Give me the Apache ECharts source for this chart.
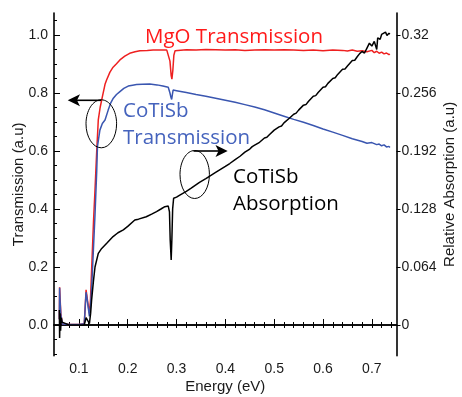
<!DOCTYPE html>
<html>
<head>
<meta charset="utf-8">
<script src="https://cdn.jsdelivr.net/npm/echarts@6/dist/echarts.min.js"></script>
<style>html,body{margin:0;padding:0;background:#fff}#c{width:462px;height:397px}</style>
</head>
<body>
<div id="c"></div>
<script>
// ---- data (Energy eV, value) ----
const mgoTransmission = [
[0.060,0.02],[0.0605,0.13],[0.0615,0.09],[0.063,0.04],[0.066,0.003],[0.08,0.002],[0.1,0.002],[0.111,0.004],
[0.1147,0.121],[0.118,0.08],[0.1215,0.04],[0.1235,0.08],[0.1263,0.201],[0.130,0.36],[0.133,0.466],[0.1365,0.60],
[0.1397,0.707],[0.1435,0.75],[0.1467,0.776],[0.1535,0.83],[0.1567,0.845],[0.1636,0.872],[0.170,0.889],[0.177,0.901],
[0.184,0.914],[0.194,0.927],[0.204,0.937],[0.215,0.942],[0.225,0.946],[0.24,0.947],[0.252,0.948],[0.265,0.948],
[0.28,0.948],[0.284,0.946],[0.2865,0.91],[0.289,0.86],[0.2905,0.848],[0.2925,0.88],[0.2945,0.93],[0.297,0.946],
[0.30,0.948],[0.32,0.949],[0.34,0.948],[0.36,0.950],[0.38,0.949],[0.40,0.948],[0.42,0.949],[0.44,0.947],
[0.46,0.948],[0.48,0.949],[0.50,0.948],[0.52,0.949],[0.54,0.948],[0.56,0.947],[0.58,0.948],[0.60,0.946],
[0.62,0.948],[0.64,0.947],[0.65,0.945],[0.66,0.948],[0.67,0.944],[0.68,0.946],[0.69,0.942],[0.70,0.947],
[0.705,0.939],[0.71,0.944],[0.715,0.937],[0.72,0.941],[0.725,0.935],[0.73,0.938],[0.735,0.932],[0.737,0.934]
];
const cotisbTransmission = [
[0.060,0.02],[0.0605,0.128],[0.0615,0.08],[0.063,0.035],[0.066,0.003],[0.08,0.002],[0.1,0.002],[0.111,0.004],
[0.1147,0.113],[0.118,0.075],[0.1215,0.03],[0.124,0.07],[0.127,0.16],[0.1297,0.26],[0.133,0.38],[0.1365,0.53],
[0.138,0.615],[0.143,0.672],[0.148,0.695],[0.1535,0.707],[0.16,0.741],[0.165,0.765],[0.1705,0.782],[0.177,0.795],
[0.184,0.805],[0.192,0.816],[0.201,0.824],[0.21,0.827],[0.218,0.829],[0.23,0.830],[0.245,0.831],[0.26,0.828],
[0.272,0.824],[0.283,0.82],[0.2865,0.80],[0.2885,0.785],[0.290,0.778],[0.2915,0.795],[0.293,0.81],[0.30,0.808],
[0.32,0.802],[0.34,0.795],[0.36,0.789],[0.38,0.782],[0.40,0.775],[0.42,0.768],[0.44,0.76],[0.46,0.752],
[0.48,0.742],[0.50,0.731],[0.52,0.72],[0.54,0.709],[0.56,0.699],[0.58,0.688],[0.60,0.676],[0.62,0.665],
[0.64,0.654],[0.66,0.642],[0.68,0.633],[0.69,0.627],[0.70,0.629],[0.71,0.622],[0.715,0.624],[0.72,0.618],
[0.725,0.621],[0.73,0.614],[0.735,0.616],[0.737,0.612]
];
const cotisbAbsorption = [
[0.060,0.0166],[0.0605,-0.0144],[0.0615,0.0128],[0.0625,-0.0064],[0.064,0.008],[0.0655,0.0032],[0.068,0.001],[0.08,0.0],
[0.1,0.0],[0.111,0.0003],[0.1147,0.008],[0.118,0.0058],[0.1215,0.0016],[0.124,0.0128],[0.126,0.0275],[0.13,0.0496],
[0.133,0.064],[0.1397,0.079],[0.1467,0.0845],[0.157,0.0902],[0.17,0.0976],[0.18,0.1018],[0.191,0.105],[0.2,0.1088],
[0.2145,0.1158],[0.222,0.1168],[0.238,0.1194],[0.25,0.1226],[0.259,0.1251],[0.268,0.128],[0.276,0.1306],[0.283,0.1312],
[0.2855,0.1248],[0.287,0.0938],[0.288,0.0832],[0.289,0.0717],[0.2905,0.096],[0.292,0.128],[0.294,0.1398],[0.30,0.1411],
[0.3067,0.1434],[0.32,0.1475],[0.33,0.151],[0.347,0.1574],[0.36,0.1616],[0.38,0.1683],[0.40,0.175],[0.409,0.1782],
[0.42,0.1824],[0.43,0.1862],[0.44,0.1907],[0.45,0.1942],[0.455,0.1968],[0.46,0.1984],[0.47,0.2016],[0.48,0.2064],
[0.485,0.2071],[0.49,0.2099],[0.50,0.215],[0.51,0.2186],[0.515,0.2195],[0.52,0.223],[0.531,0.2282],[0.54,0.2326],
[0.545,0.2338],[0.55,0.2371],[0.56,0.2426],[0.565,0.2432],[0.57,0.2467],[0.58,0.2525],[0.585,0.2531],[0.59,0.2566],
[0.60,0.2624],[0.605,0.2629],[0.61,0.2666],[0.62,0.272],[0.625,0.2728],[0.63,0.2765],[0.64,0.2822],[0.645,0.2826],
[0.65,0.2858],[0.66,0.2918],[0.665,0.2922],[0.67,0.296],[0.675,0.2995],[0.68,0.3018],[0.685,0.3001],[0.69,0.3056],
[0.695,0.311],[0.70,0.3078],[0.705,0.313],[0.71,0.304],[0.712,0.3168],[0.717,0.3152],[0.72,0.3206],[0.724,0.3184],
[0.728,0.3232],[0.731,0.3194],[0.735,0.3219],[0.737,0.321]
];
// ---- ticks ----
const xMajorTicks = [0.1,0.2,0.3,0.4,0.5,0.6,0.7];
const xMinorTicks = [0.06,0.08,0.12,0.14,0.16,0.18,0.22,0.24,0.26,0.28,0.32,0.34,0.36,0.38,0.42,0.44,0.46,0.48,0.52,0.54,0.56,0.58,0.62,0.64,0.66,0.68,0.72,0.74];
const yMajorTicks = [0,0.2,0.4,0.6,0.8,1.0];
const yMinorTicks = [-0.1,-0.05,0.05,0.1,0.15,0.25,0.3,0.35,0.45,0.5,0.55,0.65,0.7,0.75,0.85,0.9,0.95,1.05];
const rightTicks = [0,0.064,0.128,0.192,0.256,0.32];
const rightTickLabels = ['0','0.064','0.128','0.192','0.256','0.32'];

const X_MIN = 0.049, X_MAX = 0.7505;
const Y_MIN = -0.1059, Y_MAX = 1.0759;
const R_SCALE = 0.32;

const lab = {fontFamily:'Liberation Sans, Arial, sans-serif', fontSize:14, color:'#1a1a1a'};
const nameFont = {fontFamily:'Liberation Sans, Arial, sans-serif', fontSize:15, color:'#1a1a1a'};
const frameLine = {show:true, lineStyle:{color:'#000', width:1.6}};

const chart = echarts.init(document.getElementById('c'), null, {renderer:'canvas'});
chart.setOption({
  animation:false,
  backgroundColor:'#fff',
  grid:{left:54, right:65.5, top:13, bottom:41.3, containLabel:false, outerBoundsMode:'none'},
  xAxis:[
    {type:'value', min:X_MIN, max:X_MAX, position:'bottom', axisLine:frameLine, splitLine:{show:false},
     axisTick:{show:true, inside:true, length:3, customValues:xMinorTicks, lineStyle:{color:'#000',width:1}},
     axisLabel:Object.assign({show:true, margin:6, customValues:xMajorTicks, formatter:v=>v.toFixed(1)}, lab),
     name:'Energy (eV)', nameLocation:'middle', nameGap:24, nameMoveOverlap:false, nameTextStyle:nameFont},
    {type:'value', min:X_MIN, max:X_MAX, position:'bottom', axisLine:{show:false}, splitLine:{show:false},
     axisTick:{show:true, inside:true, length:6, customValues:xMajorTicks, lineStyle:{color:'#000',width:1}},
     axisLabel:{show:false}},
    {type:'value', min:X_MIN, max:X_MAX, position:'top', axisLine:frameLine, splitLine:{show:false},
     axisTick:{show:true, inside:true, length:3, customValues:xMinorTicks.concat(xMajorTicks), lineStyle:{color:'#000',width:1}},
     axisLabel:{show:false}}
  ],
  yAxis:[
    {type:'value', min:Y_MIN, max:Y_MAX, position:'left', axisLine:frameLine, splitLine:{show:false},
     axisTick:{show:true, inside:true, length:3, customValues:yMinorTicks, lineStyle:{color:'#000',width:1}},
     axisLabel:Object.assign({show:true, margin:6, customValues:yMajorTicks, formatter:v=>v.toFixed(1)}, lab),
     name:'Transmission (a.u)', nameLocation:'middle', nameRotate:90, nameGap:28, nameMoveOverlap:false, nameTextStyle:nameFont},
    {type:'value', min:Y_MIN, max:Y_MAX, position:'left', axisLine:{show:false}, splitLine:{show:false},
     axisTick:{show:true, inside:true, length:6, customValues:yMajorTicks, lineStyle:{color:'#000',width:1}},
     axisLabel:{show:false}},
    {type:'value', min:Y_MIN*R_SCALE, max:Y_MAX*R_SCALE, position:'right', axisLine:frameLine, splitLine:{show:false},
     axisTick:{show:true, inside:false, length:4, customValues:rightTicks, lineStyle:{color:'#000',width:1}},
     axisLabel:Object.assign({show:true, margin:5, customValues:rightTicks,
       formatter:v=>{const i=rightTicks.findIndex(t=>Math.abs(t-v)<1e-6);return i>=0?rightTickLabels[i]:'';}}, lab),
     name:'Relative Absorption (a.u)', nameLocation:'middle', nameRotate:90, nameGap:46, nameMoveOverlap:false, nameTextStyle:nameFont}
  ],
  series:[
    {name:'MgO Transmission', type:'line', xAxisIndex:0, yAxisIndex:0, data:mgoTransmission, showSymbol:false, symbol:'none',
     lineStyle:{color:'#ee2020', width:1.5}, z:2},
    {name:'CoTiSb Transmission', type:'line', xAxisIndex:0, yAxisIndex:0, data:cotisbTransmission, showSymbol:false, symbol:'none',
     lineStyle:{color:'#3a56b0', width:1.5}, z:3},
    {name:'CoTiSb Absorption', type:'line', xAxisIndex:0, yAxisIndex:2, data:cotisbAbsorption, showSymbol:false, symbol:'none',
     lineStyle:{color:'#000', width:1.5}, z:4}
  ],
  graphic:[
    {type:'text', x:145, y:37, z:10, style:{text:'MgO Transmission', fill:'#ff1a1a', font:'20.5px "Open Sans"', verticalAlign:'middle'}},
    {type:'text', x:123, y:111, z:10, style:{text:'CoTiSb', fill:'#4563bd', font:'20.5px "Open Sans"', verticalAlign:'middle'}},
    {type:'text', x:123, y:138, z:10, style:{text:'Transmission', fill:'#4563bd', font:'20.5px "Open Sans"', verticalAlign:'middle'}},
    {type:'text', x:233, y:177, z:10, style:{text:'CoTiSb', fill:'#000', font:'20.5px "Open Sans"', verticalAlign:'middle'}},
    {type:'text', x:233, y:204, z:10, style:{text:'Absorption', fill:'#000', font:'20.5px "Open Sans"', verticalAlign:'middle'}},
    {type:'ellipse', z:10, shape:{cx:101.3, cy:123.8, rx:15.3, ry:24}, style:{fill:'none', stroke:'#000', lineWidth:1}},
    {type:'ellipse', z:10, shape:{cx:194.7, cy:174.5, rx:14.7, ry:24}, style:{fill:'none', stroke:'#000', lineWidth:1}},
    {type:'line', z:10, shape:{x1:101, y1:100.3, x2:76, y2:100.3}, style:{stroke:'#000', lineWidth:1.6}},
    {type:'polygon', z:10, shape:{points:[[67.7,100.3],[80,94.3],[77,100.3],[80,106.3]]}, style:{fill:'#000'}},
    {type:'line', z:10, shape:{x1:193.5, y1:151, x2:220, y2:151}, style:{stroke:'#000', lineWidth:1.6}},
    {type:'polygon', z:10, shape:{points:[[227.7,151],[215.5,145],[218.5,151],[215.5,157]]}, style:{fill:'#000'}}
  ]
});
</script>
</body>
</html>
